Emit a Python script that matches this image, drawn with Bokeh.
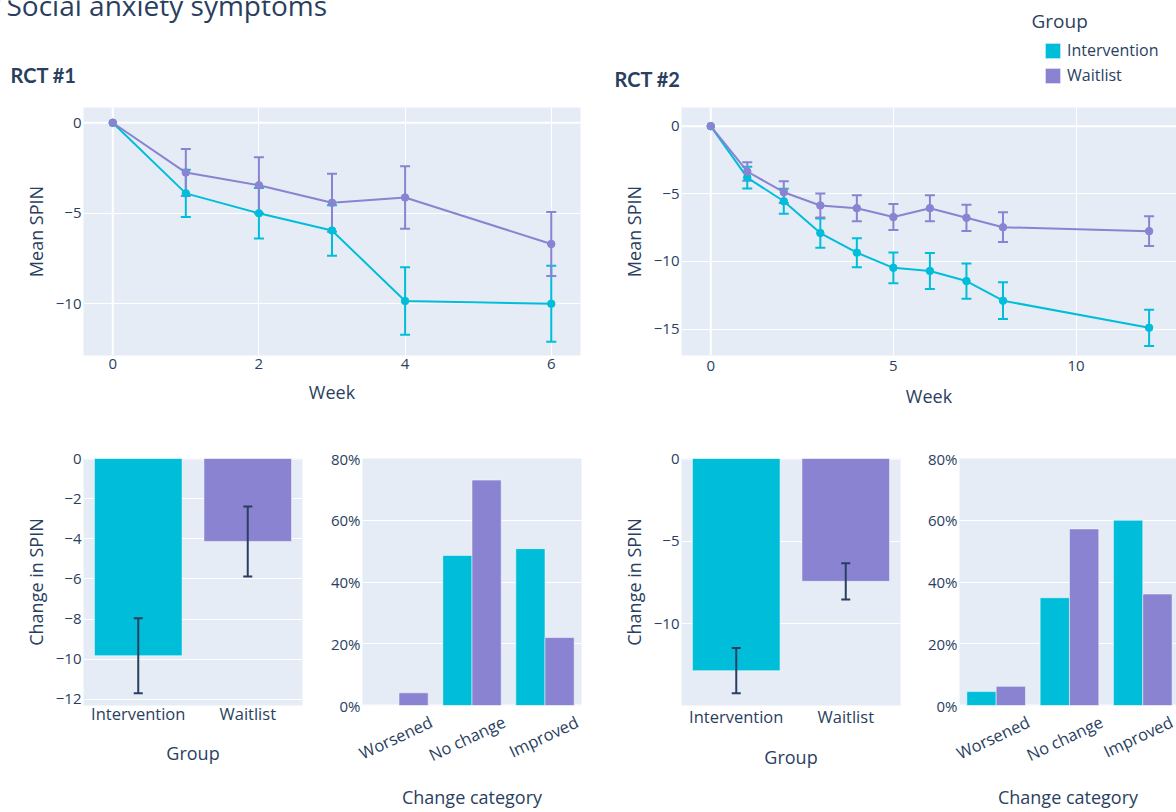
from bokeh.plotting import figure
from bokeh.models import (Range1d, FactorRange, ColumnDataSource, Whisker, TeeHead, Span,
                          FixedTicker, Legend, LegendItem)
from bokeh.layouts import column, row
from bokeh.embed import file_html
from bokeh.resources import INLINE
from bokeh.core.properties import value

# ---------------- data ----------------
title_text = "Social anxiety symptoms"
panel_titles = ["RCT #1", "RCT #2"]
groups = ["Intervention", "Waitlist"]
categories = ["Worsened", "No change", "Improved"]

rct1_weeks = [0, 1, 2, 3, 4, 6]
rct1_int_mean = [0, -3.9, -5.0, -5.95, -9.85, -10.0]
rct1_int_err = [0, 1.3, 1.4, 1.4, 1.87, 2.1]
rct1_wait_mean = [0, -2.75, -3.45, -4.42, -4.13, -6.7]
rct1_wait_err = [0, 1.3, 1.55, 1.6, 1.73, 1.77]

rct2_weeks = [0, 1, 2, 3, 4, 5, 6, 7, 8, 12]
rct2_int_mean = [0, -3.8, -5.55, -7.9, -9.35, -10.47, -10.7, -11.45, -12.9, -14.9]
rct2_int_err = [0, 0.8, 0.92, 1.08, 1.07, 1.14, 1.33, 1.3, 1.36, 1.34]
rct2_wait_mean = [0, -3.35, -4.88, -5.86, -6.06, -6.72, -6.06, -6.77, -7.47, -7.76]
rct2_wait_err = [0, 0.68, 0.8, 0.89, 0.96, 0.96, 0.96, 0.97, 1.1, 1.1]

rct1_change = [-9.82, -4.13]
rct1_change_err = [1.87, 1.74]
rct2_change = [-12.85, -7.44]
rct2_change_err = [1.37, 1.1]

rct1_pct_int = [0, 48.6, 50.8]
rct1_pct_wait = [4.1, 73.0, 22.0]
rct2_pct_int = [4.5, 34.9, 60.0]
rct2_pct_wait = [6.2, 57.2, 36.1]

rct1_xticks = [0, 2, 4, 6]
rct1_yticks = [-10, -5, 0]
rct2_xticks = [0, 5, 10]
rct2_yticks = [-15, -10, -5, 0]
rct1_change_ticks = [-12, -10, -8, -6, -4, -2, 0]
rct2_change_ticks = [-10, -5, 0]
pct_ticks = [0, 20, 40, 60, 80]

# ---------------- style ----------------
FONT = "Open Sans"
TXT = "#2a3f5f"
BG = "#e5ecf6"
CYAN = "#00bed9"
PURPLE = "#8983d1"
COLORS = [CYAN, PURPLE]
LABEL_SHIFT = 0.44


def num_label(t):
    return str(t).replace("-", "\u2212")


def base_fig(width, height, borders, x_range, y_range):
    l, r, t, b = borders
    p = figure(width=width, height=height, x_range=x_range, y_range=y_range,
               output_backend="svg", toolbar_location=None, title=None,
               min_border_left=l, min_border_right=r, min_border_top=t, min_border_bottom=b)
    p.background_fill_color = BG
    p.border_fill_color = "white"
    p.outline_line_color = None
    p.grid.grid_line_color = "white"
    p.grid.grid_line_width = 1
    for ax in p.axis:
        ax.axis_line_color = None
        ax.major_tick_line_color = None
        ax.minor_tick_line_color = None
        ax.major_tick_out = 0
        ax.major_tick_in = 0
        ax.major_label_text_font = FONT
        ax.major_label_text_color = TXT
        ax.major_label_text_font_size = "15px"
        ax.axis_label_text_font = FONT
        ax.axis_label_text_color = TXT
        ax.axis_label_text_font_size = "18px"
        ax.axis_label_text_font_style = "normal"
    p.yaxis.major_label_standoff = 2
    p.yaxis.axis_label_standoff = 5
    return p


def whiskers(p, base, means, errs, color, head, level):
    xs = [b for b, e in zip(base, errs) if e > 0]
    up = [m + e for m, e in zip(means, errs) if e > 0]
    lo = [m - e for m, e in zip(means, errs) if e > 0]
    src = ColumnDataSource(dict(x=xs, upper=up, lower=lo))
    w = Whisker(source=src, base="x", upper="upper", lower="lower",
                line_color=color, line_width=2, level=level,
                upper_head=TeeHead(size=head, line_color=color, line_width=2),
                lower_head=TeeHead(size=head, line_color=color, line_width=2))
    p.add_layout(w)


def line_chart(width, height, borders, xr, yr, weeks, series, xticks, yticks, so, als):
    p = base_fig(width, height, borders, Range1d(*xr), Range1d(*yr))
    p.xaxis.ticker = FixedTicker(ticks=xticks)
    p.yaxis.ticker = FixedTicker(ticks=yticks)
    p.yaxis.major_label_overrides = {t: num_label(t) for t in yticks}
    p.xaxis.major_label_standoff = so
    p.xaxis.axis_label_standoff = als
    p.xaxis.axis_label = "Week"
    p.yaxis.axis_label = "Mean SPIN"
    p.add_layout(Span(location=0, dimension="width", line_color="white", line_width=2, level="underlay"))
    p.add_layout(Span(location=0, dimension="height", line_color="white", line_width=2, level="underlay"))
    for (means, errs), c in zip(series, COLORS):
        whiskers(p, weeks, means, errs, c, 10, "underlay")
    for (means, errs), c in zip(series, COLORS):
        p.line(weeks, means, line_color=c, line_width=2)
        p.scatter(weeks, means, size=7.5, fill_color=c, line_color=c)
    return p


def change_chart(width, height, borders, ymin, vals, errs, yticks, so, als):
    p = base_fig(width, height, borders, FactorRange(factors=groups, range_padding=0),
                 Range1d(ymin, 0))
    p.xgrid.grid_line_color = None
    p.yaxis.ticker = FixedTicker(ticks=yticks)
    p.yaxis.major_label_overrides = {t: num_label(t) for t in yticks}
    p.xaxis.major_label_text_font_size = "16.5px"
    p.xaxis.major_label_standoff = so
    p.xaxis.axis_label_standoff = als
    p.xaxis.axis_label = "Group"
    p.yaxis.axis_label = "Change in SPIN"
    p.add_layout(Span(location=0, dimension="width", line_color="white", line_width=2, level="underlay"))
    p.vbar(x=groups, top=vals, bottom=0, width=0.8, fill_color=COLORS,
           line_color="white", line_width=0.5)
    whiskers(p, groups, vals, errs, TXT, 9, "annotation")
    return p


def pct_chart(width, height, borders, xmax, ivals, wvals):
    p = base_fig(width, height, borders, Range1d(0, xmax), Range1d(0, 80))
    centers = [i + 0.5 for i in range(len(categories))]
    p.xgrid.grid_line_color = None
    p.yaxis.ticker = FixedTicker(ticks=pct_ticks)
    p.yaxis.major_label_overrides = {t: f"{t}%" for t in pct_ticks}
    lab_pos = [round(c + LABEL_SHIFT, 3) for c in centers]
    p.xaxis.ticker = FixedTicker(ticks=lab_pos)
    p.xaxis.major_label_overrides = {x: c for x, c in zip(lab_pos, categories)}
    p.xaxis.major_label_orientation = 0.44
    p.xaxis.major_label_text_font_size = "16.5px"
    p.xaxis.major_label_standoff = 15
    p.xaxis.axis_label_standoff = 6
    p.xaxis.axis_label = "Change category"
    p.add_layout(Span(location=0, dimension="width", line_color="white", line_width=2, level="underlay"))
    p.vbar(x=[c - 0.2 for c in centers], top=ivals, bottom=0, width=0.4, fill_color=CYAN,
           line_color="white", line_width=0.5)
    p.vbar(x=[c + 0.2 for c in centers], top=wvals, bottom=0, width=0.4, fill_color=PURPLE,
           line_color="white", line_width=0.5)
    return p


# ---------------- header ----------------
hdr = figure(width=1176, height=100, x_range=Range1d(0, 1176), y_range=Range1d(100, 0),
             output_backend="svg", toolbar_location=None, min_border=0, title=None,
             x_axis_location=None, y_axis_location=None)
hdr.grid.visible = False
hdr.outline_line_color = None
hdr.background_fill_color = "white"
hdr.border_fill_color = "white"
hdr.text(x=[6], y=[4], text=[title_text], text_font=value(FONT), text_font_size="28px",
         text_color=TXT, text_baseline="alphabetic", text_align="left")
hdr.text(x=[10, 614], y=[74, 78], text=panel_titles, text_font=value("Lato"),
         text_font_size="20px", text_font_style="bold", text_color=TXT,
         text_baseline="alphabetic", text_align="left")
hdr.text(x=[1031], y=[20], text=["Group"], text_font=value(FONT), text_font_size="19px",
         text_color=TXT, text_baseline="alphabetic", text_align="left")
dummies = [hdr.vbar(x=[-100], top=[1], bottom=0, width=1, fill_color=c, line_color="white",
                    line_width=0.5) for c in COLORS]
legend = Legend(items=[LegendItem(label=g, renderers=[r]) for g, r in zip(groups, dummies)],
                location=(1043, 14), orientation="vertical", glyph_width=19, glyph_height=19,
                label_height=19, label_standoff=5, spacing=3, padding=0, margin=0,
                border_line_color=None, background_fill_alpha=0,
                label_text_font=FONT, label_text_font_size="16px", label_text_color=TXT)
hdr.add_layout(legend)

# ---------------- panels ----------------
fa = line_chart(600, 328, (83, 20, 7, 73), (-0.4, 6.4), (-12.86, 0.845), rct1_weeks,
                [(rct1_int_mean, rct1_int_err), (rct1_wait_mean, rct1_wait_err)],
                rct1_xticks, rct1_yticks, 3, 8)
fb = line_chart(576, 328, (81, 0, 7, 73), (-0.8, 12.75), (-16.95, 1.38), rct2_weeks,
                [(rct2_int_mean, rct2_int_err), (rct2_wait_mean, rct2_wait_err)],
                rct2_xticks, rct2_yticks, 5, 10)
fc = change_chart(320, 384, (83, 18, 30, 106), -12.3, rct1_change, rct1_change_err,
                  rct1_change_ticks, -4, 13)
fd = pct_chart(280, 384, (42, 19, 30, 106), 3.0, rct1_pct_int, rct1_pct_wait)
fe = change_chart(320, 384, (81, 20, 30, 106), -14.96, rct2_change, rct2_change_err,
                  rct2_change_ticks, -1, 14)
ff = pct_chart(256, 384, (39, 0, 30, 106), 2.96, rct2_pct_int, rct2_pct_wait)

root = column(hdr, row(fa, fb), row(fc, fd, fe, ff), margin=(0, 0, 0, 0))

open("out.html", "w").write(file_html(root, INLINE))
